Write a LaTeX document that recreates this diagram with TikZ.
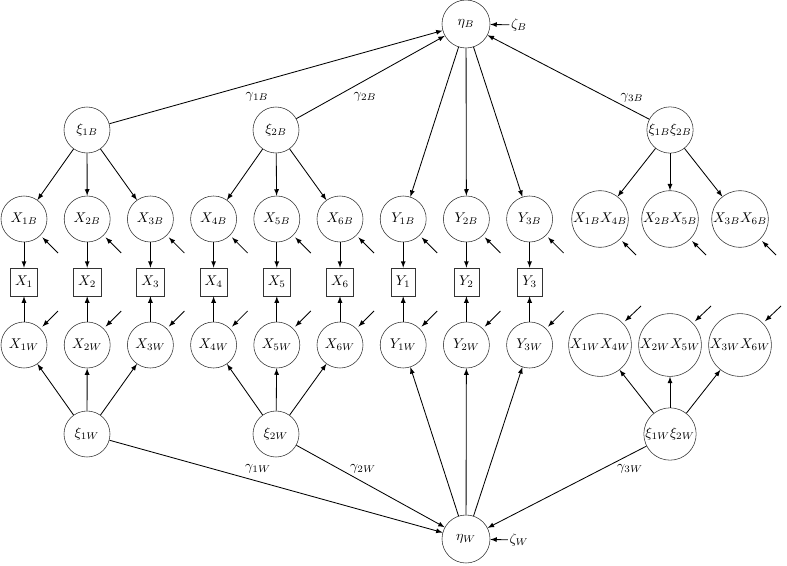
\documentclass[tikz,border=0pt]{standalone}
\usepackage{amsmath, amssymb}
\usetikzlibrary{arrows}
\tikzstyle{latent}=[circle, draw=black!80, minimum size=1.15cm, inner sep=1pt]
\tikzstyle{outcome}=[circle, draw=black!80, minimum size=1.2cm, inner sep=1pt]
\tikzstyle{product}=[circle, draw=black!80, minimum size=1.15cm, inner sep=0.5pt]
\tikzstyle{obs}=[rectangle, draw=black!80, minimum width=0.62cm, minimum height=0.7cm]
\tikzstyle{load}=[->, >=latex, semithick]
\tikzstyle{resid}=[->, >=latex, semithick, shorten >=2pt]

\begin{document}
\begin{tikzpicture}[x=0.025cm, y=-0.025cm]
	\useasboundingbox (0,0) rectangle (787,565);

	% Between level
	\node[outcome] (etaB) at (466,24) {$\eta_B$};
	\node[inner sep=1pt] (zetaB) at (519,25) {$\zeta_B$};
	\node[latent] (xi1B) at ( 87,130) {$\xi_{1B}$};
	\node[latent] (xi2B) at (276,130) {$\xi_{2B}$};
	\node[product] (xi3B) at (670,130) {$\xi_{1B}\xi_{2B}$};

	% Within level
	\node[outcome] (etaW) at (466,539) {$\eta_W$};
	\node[inner sep=1pt] (zetaW) at (519,540) {$\zeta_W$};
	\node[latent] (xi1W) at ( 87,434) {$\xi_{1W}$};
	\node[latent] (xi2W) at (276,434) {$\xi_{2W}$};
	\node[product] (xi3W) at (670,434) {$\xi_{1W}\xi_{2W}$};

	% Indicators of the predictors
	\foreach \i/\xx in {1/24, 2/87.2, 3/150.4, 4/213.6, 5/276.8, 6/340}{
		\node[latent] (XB\i) at (\xx,219) {$X_{\i B}$};
		\node[obs] (X\i) at (\xx,282) {$X_{\i}$};
		\node[latent] (XW\i) at (\xx,345) {$X_{\i W}$};
		\draw[load] (XB\i) -- (X\i);
		\draw[load] (XW\i) -- (X\i);
		\coordinate (eXB\i) at (\xx+34,253);
		\coordinate (eXW\i) at (\xx+34,311);
		\draw[resid] (eXB\i) -- (XB\i);
		\draw[resid] (eXW\i) -- (XW\i);
	}

	% Indicators of the outcome
	\foreach \i/\xx in {1/403.2, 2/466.4, 3/529.6}{
		\node[latent] (YB\i) at (\xx,219) {$Y_{\i B}$};
		\node[obs] (Y\i) at (\xx,282) {$Y_{\i}$};
		\node[latent] (YW\i) at (\xx,345) {$Y_{\i W}$};
		\draw[load] (YB\i) -- (Y\i);
		\draw[load] (YW\i) -- (Y\i);
		\coordinate (eYB\i) at (\xx+34,253);
		\coordinate (eYW\i) at (\xx+34,311);
		\draw[resid] (eYB\i) -- (YB\i);
		\draw[resid] (eYW\i) -- (YW\i);
		\draw[load] (etaB) -- (YB\i);
		\draw[load] (etaW) -- (YW\i);
	}

	% Product indicators
	\foreach \i/\j/\xx in {1/4/600, 2/5/670, 3/6/740}{
		\node[product] (IB\i) at (\xx,219) {$X_{\i B}X_{\j B}$};
		\node[product] (IW\i) at (\xx,345) {$X_{\i W}X_{\j W}$};
		\coordinate (eIB\i) at (\xx+36,255);
		\coordinate (eIW\i) at (\xx+41,306);
		\draw[resid] (eIB\i) -- (IB\i);
		\draw[resid] (eIW\i) -- (IW\i);
		\draw[load] (xi3B) -- (IB\i);
		\draw[load] (xi3W) -- (IW\i);
	}

	% Loadings
	\foreach \i in {1,2,3}{
		\draw[load] (xi1B) -- (XB\i);
		\draw[load] (xi1W) -- (XW\i);
	}
	\foreach \i in {4,5,6}{
		\draw[load] (xi2B) -- (XB\i);
		\draw[load] (xi2W) -- (XW\i);
	}

	% Structural paths
	\draw[load] (xi1B) -- (etaB);
	\draw[load] (xi2B) -- (etaB);
	\draw[load] (xi3B) -- (etaB);
	\draw[load] (zetaB) -- (etaB);
	\draw[load] (xi1W) -- (etaW);
	\draw[load] (xi2W) -- (etaW);
	\draw[load] (xi3W) -- (etaW);
	\draw[load] (zetaW) -- (etaW);

	\node (g1B) at (257,97) {$\gamma_{1B}$};
	\node (g2B) at (365,97) {$\gamma_{2B}$};
	\node (g3B) at (632,98) {$\gamma_{3B}$};
	\node (g1W) at (258,469) {$\gamma_{1W}$};
	\node (g2W) at (363,469) {$\gamma_{2W}$};
	\node (g3W) at (630,469) {$\gamma_{3W}$};
\end{tikzpicture}
\end{document}
